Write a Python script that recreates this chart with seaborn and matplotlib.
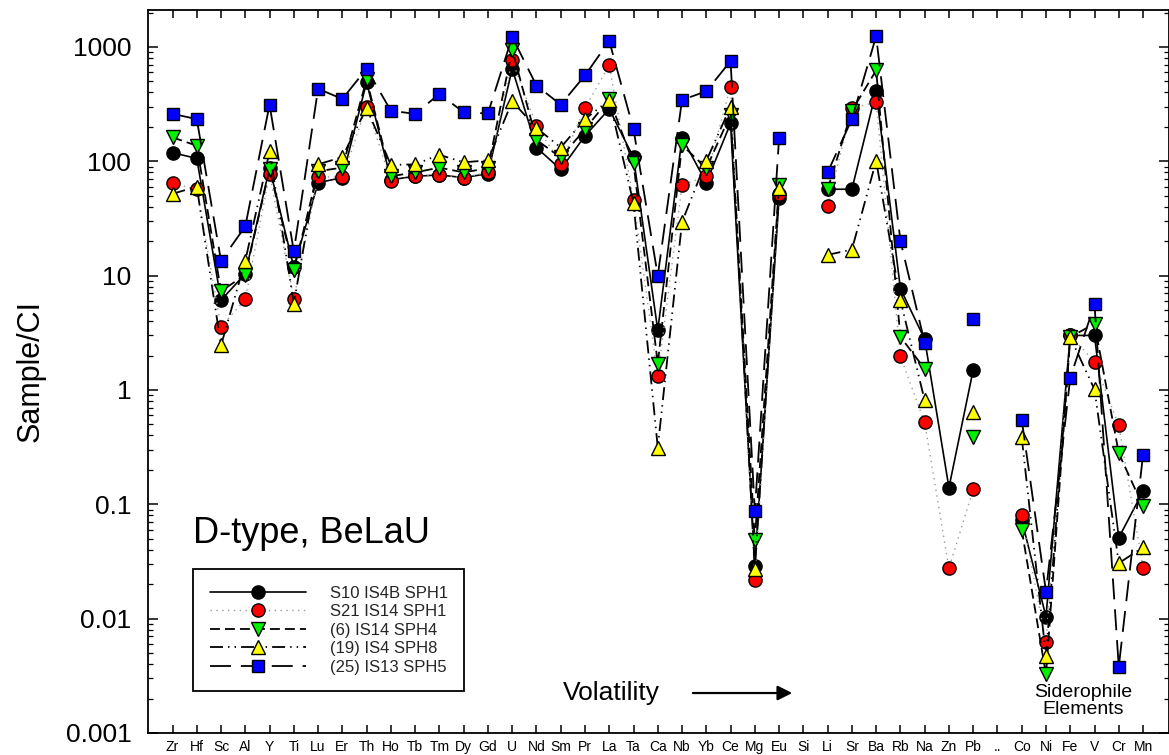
import numpy as np
import pandas as pd
import matplotlib
matplotlib.use("Agg")
import matplotlib.pyplot as plt
import seaborn as sns
from matplotlib.ticker import LogLocator, FuncFormatter, NullFormatter, NullLocator

nan = np.nan

elements = ["Zr", "Hf", "Sc", "Al", "Y", "Ti", "Lu", "Er", "Th", "Ho", "Tb", "Tm", "Dy", "Gd",
            "U", "Nd", "Sm", "Pr", "La", "Ta", "Ca", "Nb", "Yb", "Ce", "Mg", "Eu", "Si", "Li",
            "Sr", "Ba", "Rb", "Na", "Zn", "Pb", "..", "Co", "Ni", "Fe", "V", "Cr", "Mn"]

s10_is4b_sph1 = [119, 106, 6.1, 10.4, 88, 11.8, 65, 72, 492, 69, 74, 76, 72, 78,
                 646, 132, 85, 167, 287, 108, 3.33, 161, 65, 215, 0.029, 48, nan, 57,
                 57, 410, 7.7, 2.78, 0.14, 1.50, nan, 0.073, 0.0104, 3.0, 3.0, 0.051, 0.13]

s21_is14_sph1 = [64, 57, 3.57, 6.2, 77, 6.3, 73, 73, 301, 67, 74, 76, 72, 80,
                 764, 205, 95, 293, 690, 46, 1.32, 62, 74, 451, 0.0218, 52, nan, 41,
                 293, 328, 1.97, 0.52, 0.0276, 0.135, nan, 0.081, 0.0063, 3.0, 1.76, 0.49, 0.028]

is14_sph4 = [162, 137, 7.3, 10.2, 85, 11.2, 82, 88, 520, 74, 80, 88, 80, 87,
             949, 154, 108, 191, 351, 96, 1.70, 139, 87, 256, 0.0484, 62, nan, 57,
             277, 624, 2.92, 1.53, nan, 0.39, nan, 0.060, 0.00325, 2.9, 3.8, 0.28, 0.096]

is4_sph8 = [52, 60, 2.46, 13.5, 122, 5.7, 94, 109, 293, 93, 94, 114, 98, 102,
            335, 196, 132, 234, 344, 43, 0.314, 29.5, 101, 301, 0.027, 59, nan, 15.2,
            16.9, 101, 6.1, 0.81, nan, 0.64, nan, 0.385, 0.0047, 2.9, 1.01, 0.0306, 0.042]

is13_sph5 = [260, 234, 13.5, 27, 313, 16.3, 431, 351, 646, 277, 260, 389, 268, 262,
             1225, 460, 313, 564, 1129, 191, 10.0, 344, 410, 753, 0.087, 160, nan, 80,
             234, 1242, 20.2, 2.59, nan, 4.2, nan, 0.55, 0.0172, 1.28, 5.6, 0.0038, 0.27]

series_names = ["S10 IS4B SPH1", "S21 IS14 SPH1", "(6) IS14 SPH4", "(19) IS4 SPH8", "(25) IS13 SPH5"]
series_values = [s10_is4b_sph1, s21_is14_sph1, is14_sph4, is4_sph8, is13_sph5]

styles = [
    dict(color="black", linestyle="-", linewidth=1.2, marker="o", markersize=9.5, markerfacecolor="black"),
    dict(color="#9a9a9a", linestyle=(0, (1, 3.2)), linewidth=1.0, marker="o", markersize=9.5, markerfacecolor="#ff0000"),
    dict(color="black", linestyle=(0, (5.5, 2.8)), linewidth=1.3, marker="v", markersize=10, markerfacecolor="#00f000"),
    dict(color="black", linestyle=(0, (7.2, 2.8, 0.8, 2.8, 0.8, 2.8)), linewidth=1.3, marker="^", markersize=10, markerfacecolor="#ffff00"),
    dict(color="black", linestyle=(0, (11.6, 5.5)), linewidth=1.3, marker="s", markersize=8.5, markerfacecolor="#0000ff"),
]


def to_frame(values):
    rows = []
    seg = 0
    for i, v in enumerate(values):
        if np.isnan(v):
            seg += 1
            continue
        rows.append({"pos": i, "value": v, "seg": seg})
    return pd.DataFrame(rows)


sns.set_theme(style="ticks")
plt.rcParams["font.family"] = ["Liberation Sans", "DejaVu Sans"]

W, H = 1169, 755
fig = plt.figure(figsize=(W / 100, H / 100), dpi=100)
ax = fig.add_axes([148 / W, 22 / H, 1021 / W, 723 / H])
ax.set_yscale("log")

handles = []
for name, vals, st in zip(series_names, series_values, styles):
    df = to_frame(vals)
    n_before = len(ax.lines)
    sns.lineplot(data=df, x="pos", y="value", units="seg", estimator=None, ax=ax,
                 legend=False, markeredgecolor="black", markeredgewidth=1.0, **st)
    handles.append(ax.lines[n_before])

ax.set_xlim(-1.01, 41.07)
ax.set_ylim(1e-3, 2106)

ax.set_xticks(range(len(elements)))
ax.set_xticklabels(elements, fontsize=10)
ax.xaxis.set_minor_locator(NullLocator())
ax.yaxis.set_major_locator(LogLocator(base=10, numticks=20))
ax.yaxis.set_minor_locator(LogLocator(base=10, subs=np.arange(2, 10), numticks=200))
ax.yaxis.set_major_formatter(FuncFormatter(lambda v, _: f"{v:g}"))
ax.yaxis.set_minor_formatter(NullFormatter())

ax.tick_params(axis="x", which="major", direction="in", length=6, width=1.1,
               top=True, bottom=True, pad=5, colors="black")
ax.tick_params(axis="y", which="major", direction="in", length=7, width=1.1,
               left=True, right=True, labelsize=19, pad=12, colors="black")
ax.tick_params(axis="y", which="minor", direction="in", length=3.5, width=0.9,
               left=True, right=True, colors="black")
for sp in ax.spines.values():
    sp.set_visible(True)
    sp.set_color("black")
    sp.set_linewidth(1.3)

ax.set_xlabel("")
ax.set_ylabel("Sample/CI", fontsize=22, color="black")
ax.yaxis.set_label_coords(-0.10, 0.5)

leg = ax.legend(handles, series_names, loc="upper left", bbox_to_anchor=(0.0441, 0.2268),
                borderaxespad=0, fontsize=12, handlelength=5.8, handletextpad=1.4,
                labelspacing=0.21, borderpad=1.0, frameon=True, fancybox=False,
                edgecolor="black", framealpha=1, numpoints=1)
leg.get_frame().set_linewidth(1.3)

ax.text(0.0441, 0.2628, "D-type, BeLaU", transform=ax.transAxes, fontsize=26,
        ha="left", va="baseline", color="black")
ax.text(0.4065, 0.0553, "Volatility", transform=ax.transAxes, fontsize=19,
        ha="left", va="center", color="black")
ax.annotate("", xy=(0.6337, 0.0553), xytext=(0.531, 0.0553), xycoords="axes fraction",
            arrowprops=dict(arrowstyle="-|>", lw=1.6, color="black", mutation_scale=22))
ax.text(0.9158, 0.0443, "Siderophile\nElements", transform=ax.transAxes, fontsize=14,
        ha="center", va="center", linespacing=1.0, color="black")

fig.savefig("out.png", dpi=100)
